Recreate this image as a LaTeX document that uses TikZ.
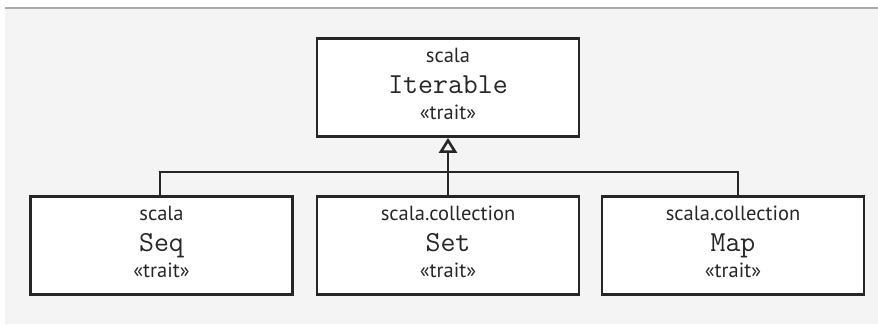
\documentclass[tikz,border=0pt]{standalone}
\usepackage{fontspec}
\setmainfont{PT Sans}
\usetikzlibrary{arrows.meta}
\definecolor{bgc}{HTML}{F4F4F4}
\definecolor{rulec}{HTML}{AAAAAA}
\definecolor{inkc}{HTML}{262626}
\newfontfamily\codefont{Latin Modern Mono}
\tikzset{
  umlbox/.style={draw=inkc, fill=white, line width=2.8pt, minimum width=262pt, minimum height=98pt, inner sep=0pt},
  pkg/.style={anchor=base, inner sep=0pt, text=inkc, font=\fontsize{20.5}{20.5}\selectfont},
  nm/.style={anchor=base, inner sep=0pt, text=inkc, font=\fontsize{29}{29}\codefont},
  conn/.style={draw=inkc, line width=2.8pt},
}
\begin{document}
\begin{tikzpicture}[x=1pt,y=1pt]
\useasboundingbox (0,0) rectangle (878,-324);
\fill[white] (0,0) rectangle (878,-324);
\fill[bgc] (5,-8) rectangle (878,-324);
\draw[rulec, line width=1.5pt] (5,-8) -- (878,-8);

\node[umlbox] (iter) at (448,-87.5) {};
\node[umlbox] (seq) at (161.5,-245.5) {};
\node[umlbox] (set) at (448,-245.5) {};
\node[umlbox] (map) at (733,-245.5) {};

\node[pkg] (iterp) at ([yshift=-25.5pt]iter.north) {scala};
\node[nm]  (itern) at ([yshift=-56.5pt]iter.north) {Iterable};
\node[pkg] (itert) at ([yshift=-82.5pt]iter.north) {«trait»};

\node[pkg] (seqp) at ([yshift=-25.5pt]seq.north) {scala};
\node[nm]  (seqn) at ([yshift=-56.5pt]seq.north) {Seq};
\node[pkg] (seqt) at ([yshift=-82.5pt]seq.north) {«trait»};

\node[pkg] (setp) at ([yshift=-25.5pt]set.north) {scala.collection};
\node[nm]  (setn) at ([yshift=-56.5pt]set.north) {Set};
\node[pkg] (sett) at ([yshift=-82.5pt]set.north) {«trait»};

\node[pkg] (mapp) at ([yshift=-25.5pt]map.north) {scala.collection};
\node[nm]  (mapn) at ([yshift=-56.5pt]map.north) {Map};
\node[pkg] (mapt) at ([yshift=-82.5pt]map.north) {«trait»};

\coordinate (seqtop) at ([xshift=-1.5pt]seq.north);
\coordinate (maptop) at ([xshift=5pt]map.north);
\coordinate (bar) at (448,-172);

\draw[conn] (seqtop) |- (bar) -| (maptop);
\draw[conn, -{Triangle[open, length=15pt, width=18pt, line width=2.6pt]}] (set.north) -- (iter.south);
\end{tikzpicture}
\end{document}
